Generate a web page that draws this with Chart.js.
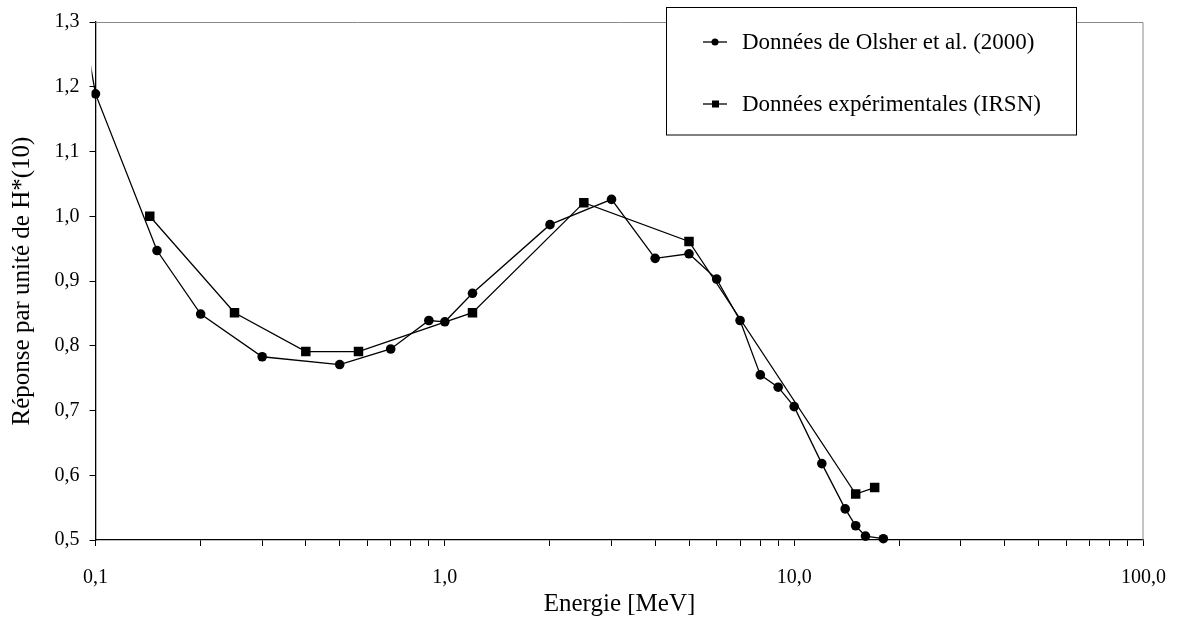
<!DOCTYPE html>
<html>
<head>
<meta charset="utf-8">
<script src="https://cdn.jsdelivr.net/npm/chart.js@4/dist/chart.umd.min.js"></script>
<style>
  body { margin: 0; background: #fff; }
  #holder { width: 1186px; height: 621px; }
</style>
</head>
<body>
<div id="holder"><canvas id="chart" width="1186" height="621"></canvas></div>
<script>
// Energie [MeV] / réponse
const olsherEnergy = [0.09, 0.1, 0.15, 0.2, 0.3, 0.5, 0.7, 0.9, 1.0, 1.2, 2, 3, 4, 5, 6, 7, 8, 9, 10, 12, 14, 15, 16, 18];
const olsherResponse = [1.33, 1.189, 0.947, 0.849, 0.783, 0.771, 0.795, 0.839, 0.837, 0.881, 0.987, 1.026, 0.935, 0.942, 0.903, 0.839, 0.755, 0.736, 0.706, 0.618, 0.548, 0.522, 0.506, 0.502];
const irsnEnergy = [0.143, 0.25, 0.4, 0.566, 1.2, 2.5, 5, 15, 17];
const irsnResponse = [1.0, 0.851, 0.791, 0.791, 0.851, 1.021, 0.961, 0.571, 0.581];

const seriesLabels = ['Données de Olsher et al. (2000)', 'Données expérimentales (IRSN)'];
const xTickValues = [0.1, 1, 10, 100];
const xTickLabels = ['0,1', '1,0', '10,0', '100,0'];
const yTickLabels = ['0,5', '0,6', '0,7', '0,8', '0,9', '1,0', '1,1', '1,2', '1,3'];
const xTitle = 'Energie [MeV]';
const yTitle = 'Réponse par unité de H*(10)';

const FONT = "'Liberation Serif', 'Times New Roman', serif";

function toPoints(xs, ys){
    return xs.map((x, i) => ({ x: x, y: ys[i] }));
}

// cadre gris en haut et à droite
const frame = {
    id: 'frame',
    beforeDatasetsDraw(chart){
        const {ctx, chartArea: a} = chart;
        ctx.save();
        ctx.strokeStyle = '#8a8a8a';
        ctx.lineWidth = 1;
        ctx.beginPath();
        ctx.moveTo(a.left, a.top + 0.5);
        ctx.lineTo(a.right - 0.5, a.top + 0.5);
        ctx.lineTo(a.right - 0.5, a.bottom);
        ctx.stroke();
        ctx.restore();
    }
};

// légende encadrée dans le graphique
const boxLegend = {
    id: 'boxLegend',
    afterDraw(chart){
        const ctx = chart.ctx;
        ctx.save();
        ctx.fillStyle = '#fff';
        ctx.fillRect(666.5, 7.5, 410, 127.5);
        ctx.strokeStyle = '#000';
        ctx.lineWidth = 1;
        ctx.strokeRect(666.5, 7.5, 410, 127.5);
        const rows = [42, 104];
        chart.data.datasets.forEach((ds, i) => {
            const y = rows[i];
            ctx.beginPath();
            ctx.moveTo(703, y);
            ctx.lineTo(727, y);
            ctx.lineWidth = 1.3;
            ctx.stroke();
            ctx.fillStyle = '#000';
            if (ds.pointStyle === 'rect') {
                ctx.fillRect(712, y - 3.5, 7, 7);
            } else {
                ctx.beginPath();
                ctx.arc(715, y, 3.5, 0, Math.PI * 2);
                ctx.fill();
            }
            ctx.font = '23px ' + FONT;
            ctx.textBaseline = 'middle';
            ctx.fillText(ds.label, 742, y + 1);
        });
        ctx.restore();
    }
};

const minorTicks = [];
for (let d = 0.1; d < 100; d *= 10) {
    for (let k = 1; k < 10; k++) minorTicks.push(+(d * k).toPrecision(3));
}
minorTicks.push(100);

new Chart(document.getElementById('chart'), {
    type: 'line',
    data: {
        datasets: [
            {
                label: seriesLabels[0],
                data: toPoints(olsherEnergy, olsherResponse),
                borderColor: '#000',
                backgroundColor: '#000',
                borderWidth: 1.3,
                pointStyle: 'circle',
                pointRadius: 4.8,
                pointBorderWidth: 0,
                tension: 0,
                clip: { left: 4, top: 0, right: 0, bottom: 6 }
            },
            {
                label: seriesLabels[1],
                data: toPoints(irsnEnergy, irsnResponse),
                borderColor: '#000',
                backgroundColor: '#000',
                borderWidth: 1.3,
                pointStyle: 'rect',
                pointRadius: 6.7,
                pointBorderWidth: 0,
                tension: 0,
                clip: 6
            }
        ]
    },
    options: {
        responsive: false,
        animation: false,
        devicePixelRatio: 1,
        layout: { padding: { top: 15, right: 37, left: 0, bottom: 0 } },
        plugins: { legend: { display: false }, tooltip: { enabled: false } },
        scales: {
            x: {
                type: 'logarithmic',
                min: 0.1,
                max: 100,
                afterBuildTicks: scale => {
                    scale.ticks = minorTicks.map(v => ({ value: v }));
                },
                afterFit: scale => { scale.height = 81; },
                ticks: {
                    color: '#000',
                    font: { family: FONT, size: 20 },
                    padding: 20,
                    maxRotation: 0,
                    autoSkip: false,
                    callback: function(value){
                        const i = xTickValues.findIndex(v => Math.abs(v - value) < 1e-9);
                        return i >= 0 ? xTickLabels[i] : '';
                    }
                },
                grid: { drawOnChartArea: false, drawTicks: true, tickLength: 6, color: '#000', tickColor: '#000' },
                border: { display: true, color: '#000', width: 1.3 },
                title: {
                    display: true,
                    text: xTitle,
                    color: '#000',
                    font: { family: FONT, size: 25 },
                    padding: { top: 0, bottom: 2 }
                }
            },
            y: {
                min: 0.5,
                max: 1.3,
                afterFit: scale => { scale.width = 95.5; },
                ticks: {
                    stepSize: 0.1,
                    color: '#000',
                    font: { family: FONT, size: 20 },
                    padding: 10,
                    callback: function(value){
                        const i = Math.round((value - 0.5) * 10);
                        return yTickLabels[i];
                    }
                },
                grid: { drawOnChartArea: false, drawTicks: true, tickLength: 6, color: '#000', tickColor: '#000' },
                border: { display: true, color: '#000', width: 1.3 },
                title: {
                    display: true,
                    text: yTitle,
                    color: '#000',
                    font: { family: FONT, size: 25 },
                    padding: { top: 7, bottom: 0 }
                }
            }
        }
    },
    plugins: [frame, boxLegend]
});
</script>
</body>
</html>
